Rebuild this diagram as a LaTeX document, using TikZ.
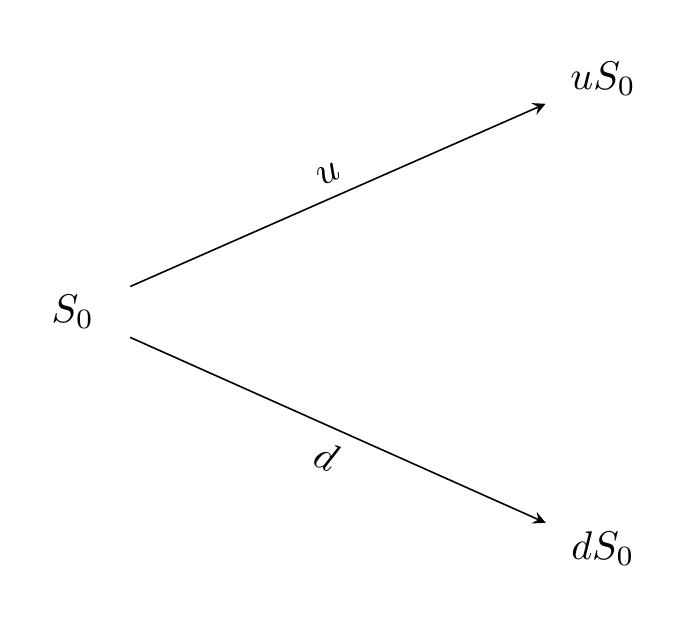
\documentclass[tikz,border=0pt]{standalone}
\usepackage{tikz}
\usetikzlibrary{arrows}

\begin{document}
\begin{tikzpicture}[
    text centered,
	price/.style={
	  circle,
	  minimum size=1.09cm,
	  inner sep=0pt
	},
 	line/.style={draw, -stealth}
	]
	\useasboundingbox (0, 0) rectangle (5.95, -5.43);
	\node [price] at (0.64, -2.74) (s0) {$S_0$};
	\node [price] at (5.30, -0.69) (us0) {$uS_0$};
	\node [price] at (5.30, -4.82) (ds0) {$dS_0$};
	\path[line] (s0) -- node [midway, above, sloped] (up) {$u$} (us0);
	\path[line] (s0) -- node [midway, below, sloped] (down) {$d$} (ds0);
  \end{tikzpicture}
\end{document}
